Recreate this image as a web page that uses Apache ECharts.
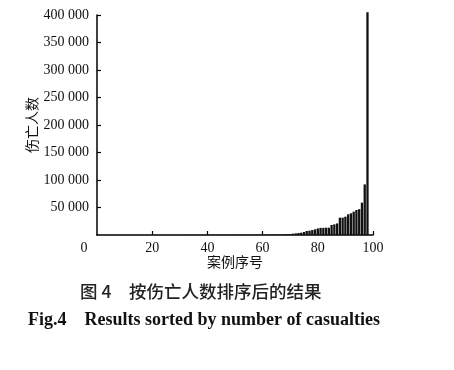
<!DOCTYPE html>
<html>
<head>
<meta charset="utf-8">
<script src="https://cdn.jsdelivr.net/npm/echarts@6/dist/echarts.min.js"></script>
<style>html,body{margin:0;padding:0;background:#fff}#c{width:454px;height:370px}</style>
</head>
<body>
<div id="c"></div>
<script>
// case numbers (sorted order) and casualties
const caseNo = [];
for (let i = 1; i <= 98; i++) caseNo.push(i);
const casualties = [
  5, 8, 10, 12, 15, 18, 20, 25, 30, 32, 35, 40, 45, 50, 55, 60, 65, 70, 80, 90,
  100, 110, 120, 130, 140, 150, 160, 170, 180, 190, 200, 210, 220, 230, 240, 250, 260, 270, 280, 300,
  310, 320, 330, 340, 350, 360, 380, 400, 420, 440, 460, 480, 500, 520, 540, 560, 580, 600, 630, 660,
  700, 750, 800, 850, 900,
  1000, 1100, 1300, 1500, 1800, 2400, 3000, 3600, 4200, 5500,
  7300, 7900, 9000, 10300, 12000, 13000, 13000, 13300, 13300, 18200,
  19400, 21000, 31500, 31500, 33300, 37600, 39400, 42400, 45500, 47000,
  58800, 92000, 405000
];
const xTicks = [0, 20, 40, 60, 80, 100];
const yTicks = [50000, 100000, 150000, 200000, 250000, 300000, 350000, 400000];
const yName = '伤亡人数';
const xName = '案例序号';
const captionCn = '图 4　按伤亡人数排序后的结果';
const captionEn = 'Fig.4    Results sorted by number of casualties';

const fmtNum = v => String(v).replace(/\B(?=(\d{3})+(?!\d))/g, ' ');
const serif = '"Liberation Serif", "DejaVu Serif", serif';

const chart = echarts.init(document.getElementById('c'), null, {renderer: 'canvas'});
chart.setOption({
  backgroundColor: '#fff',
  animation: false,
  title: [
    {text: captionCn, left: 80, top: 283, padding: 0,
     textStyle: {fontFamily: '"Noto Sans CJK SC"', fontSize: 17.5, fontWeight: 500, color: '#222'}},
    {text: captionEn, left: 28, top: 311, padding: 0,
     textStyle: {fontFamily: serif, fontSize: 18, fontWeight: 'bold', color: '#111'}}
  ],
  grid: {left: 97, right: 81, top: 15, bottom: 135, containLabel: false},
  xAxis: {
    type: 'value', min: 0, max: 100, interval: 20,
    name: xName, nameLocation: 'middle', nameGap: 20, nameMoveOverlap: false,
    nameTextStyle: {fontFamily: '"Noto Sans CJK SC"', fontSize: 14, color: '#111'},
    axisLine: {lineStyle: {color: '#000', width: 1.5}},
    axisTick: {inside: true, length: 4, lineStyle: {color: '#000', width: 1.2},
      customValues: xTicks.slice(1)},
    splitLine: {show: false},
    axisLabel: {
      fontFamily: serif, fontSize: 14, color: '#111', margin: 6,
      customValues: xTicks,
      formatter: v => v === 0 ? '{o|0}' : String(v),
      rich: {o: {fontFamily: serif, fontSize: 14, color: '#111', padding: [0, 26, 0, 0]}}
    }
  },
  yAxis: {
    type: 'value', min: 0, max: 400000, interval: 50000,
    name: yName, nameLocation: 'middle', nameGap: 58, nameRotate: 90, nameMoveOverlap: false,
    nameTextStyle: {fontFamily: '"Noto Sans CJK SC"', fontSize: 14, color: '#111'},
    axisLine: {show: true, lineStyle: {color: '#000', width: 1.5}},
    axisTick: {show: true, inside: true, length: 4, lineStyle: {color: '#000', width: 1.2},
      customValues: yTicks},
    splitLine: {show: false},
    axisLabel: {
      fontFamily: serif, fontSize: 14, color: '#111', margin: 8,
      customValues: yTicks,
      formatter: v => fmtNum(v)
    }
  },
  series: [{
    type: 'bar',
    data: caseNo.map((c, i) => [c, casualties[i]]),
    barWidth: 2.3,
    clip: false,
    itemStyle: {color: '#111'}
  }]
});
</script>
</body>
</html>
